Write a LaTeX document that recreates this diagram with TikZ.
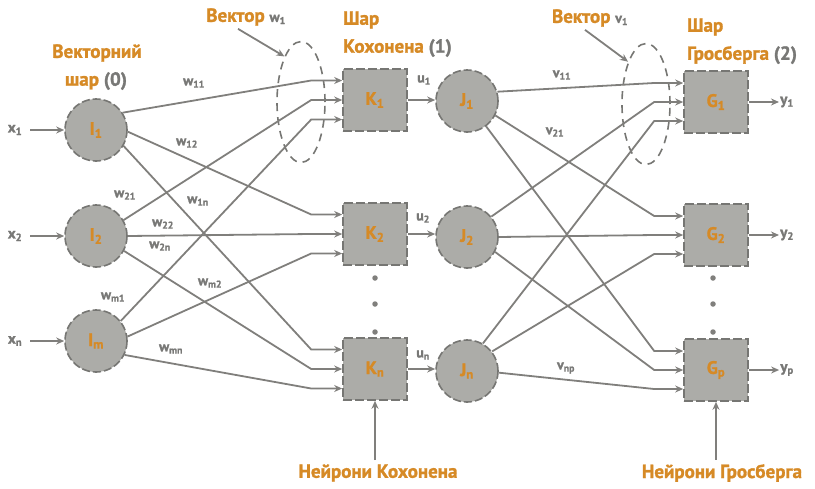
\documentclass[tikz,border=0pt]{standalone}
\usepackage{fontspec}
\setmainfont{PT Sans}[BoldFont={PT Sans Bold},BoldFeatures={FakeBold=1.5}]
\usetikzlibrary{arrows.meta,shapes.geometric}
\definecolor{og}{RGB}{214,138,38}
\definecolor{nodefill}{RGB}{172,172,168}
\definecolor{edgec}{RGB}{128,127,124}
\definecolor{bordc}{RGB}{118,118,115}
\definecolor{txtgray}{RGB}{120,120,118}
\begin{document}
\begin{tikzpicture}[x=1pt,y=-1pt,
  neuron/.style={circle,fill=nodefill,draw=bordc,dash pattern=on 8pt off 3pt,line width=1.6pt,minimum size=62pt,inner sep=0pt,font=\fontsize{18}{18}\selectfont\bfseries,text=og},
  unit/.style={rectangle,fill=nodefill,draw=bordc,dash pattern=on 9pt off 3pt,line width=1.6pt,minimum width=64pt,minimum height=62pt,inner sep=0pt,font=\fontsize{18}{18}\selectfont\bfseries,text=og},
  conn/.style={draw=edgec,line width=1.8pt,-{Stealth[length=8pt,width=7pt]}},
  wl/.style={font=\fontsize{14}{14}\selectfont\bfseries,text=txtgray,inner sep=1pt},
  xl/.style={font=\fontsize{15}{15}\selectfont\bfseries,text=txtgray,inner sep=1pt},
  ttl/.style={font=\fontsize{19}{19}\selectfont\bfseries,text=og,inner sep=0pt},
  vec/.style={ellipse,draw=bordc,dash pattern=on 8pt off 6pt,line width=1.6pt,minimum width=48pt,minimum height=121pt,inner sep=0pt},
  dotc/.style={circle,fill=edgec,inner sep=0pt,minimum size=5.5pt}
]
\useasboundingbox (0,0) rectangle (815,488);

% nodes
\node[neuron] (I1) at (96,130) {I\textsubscript{1}};
\node[neuron] (I2) at (96,236) {I\textsubscript{2}};
\node[neuron] (Im) at (96,341) {I\textsubscript{m}};
\node[unit] (K1) at (375,100) {K\textsubscript{1}};
\node[unit] (K2) at (375,234) {K\textsubscript{2}};
\node[unit] (Kn) at (375,369) {K\textsubscript{n}};
\node[neuron] (J1) at (467,101) {J\textsubscript{1}};
\node[neuron] (J2) at (467,237) {J\textsubscript{2}};
\node[neuron] (Jn) at (467,371) {J\textsubscript{n}};
\node[unit] (G1) at (716,102) {G\textsubscript{1}};
\node[unit] (G2) at (716,235) {G\textsubscript{2}};
\node[unit] (Gp) at (716,370) {G\textsubscript{p}};

% vector ellipses
\node[vec] (E1) at (301,102) {};
\node[vec] (E2) at (646,104) {};

% inputs
\node[xl] (x1) at (15,130) {x\textsubscript{1}};
\node[xl] (x2) at (15,236) {x\textsubscript{2}};
\node[xl] (xn) at (15,341) {x\textsubscript{n}};
\draw[conn,shorten <=7pt] (x1) -- (I1);
\draw[conn,shorten <=7pt] (x2) -- (I2);
\draw[conn,shorten <=7pt] (xn) -- (Im);

% I -> K
\draw[conn] (I1.33) -- ([xshift=-31pt,yshift=19.5pt]K1.west) -- ([yshift=19.5pt]K1.west);
\draw[conn] (I1.-3) -- ([xshift=-31pt,yshift=19.5pt]K2.west) -- ([yshift=19.5pt]K2.west);
\draw[conn] (I1.-30) -- ([xshift=-31pt,yshift=19.5pt]Kn.west) -- ([yshift=19.5pt]Kn.west);
\draw[conn] (I2.30) -- ([xshift=-31pt]K1.west) -- (K1.west);
\draw[conn] (I2.0) -- ([xshift=-31pt]K2.west) -- (K2.west);
\draw[conn] (I2.-28) -- ([xshift=-31pt]Kn.west) -- (Kn.west);
\draw[conn] (Im.39) -- ([xshift=-31pt,yshift=-19.5pt]K1.west) -- ([yshift=-19.5pt]K1.west);
\draw[conn] (Im.8) -- ([xshift=-31pt,yshift=-19.5pt]K2.west) -- ([yshift=-19.5pt]K2.west);
\draw[conn] (Im.-26) -- ([xshift=-31pt,yshift=-19.5pt]Kn.west) -- ([yshift=-19.5pt]Kn.west);

% K -> J
\draw[conn] (K1.east) -- (K1.east -| J1.west);
\draw[conn] (K2.east) -- (K2.east -| J2.west);
\draw[conn] (Kn.east) -- (Kn.east -| Jn.west);

% J -> G
\draw[conn] (J1.17) -- ([xshift=-29pt,yshift=19pt]G1.west) -- ([yshift=19pt]G1.west);
\draw[conn] (J1.-27) -- ([xshift=-29pt,yshift=19pt]G2.west) -- ([yshift=19pt]G2.west);
\draw[conn] (J1.-53) -- ([xshift=-29pt,yshift=19pt]Gp.west) -- ([yshift=19pt]Gp.west);
\draw[conn] (J2.40) -- ([xshift=-29pt]G1.west) -- (G1.west);
\draw[conn] (J2.0) -- ([xshift=-29pt]G2.west) -- (G2.west);
\draw[conn] (J2.-28) -- ([xshift=-29pt]Gp.west) -- (Gp.west);
\draw[conn] (Jn.60) -- ([xshift=-29pt,yshift=-19pt]G1.west) -- ([yshift=-19pt]G1.west);
\draw[conn] (Jn.38) -- ([xshift=-29pt,yshift=-19pt]G2.west) -- ([yshift=-19pt]G2.west);
\draw[conn] (Jn.-3) -- ([xshift=-29pt,yshift=-19pt]Gp.west) -- ([yshift=-19pt]Gp.west);

% outputs
\node[xl] (y1) at (787,102) {y\textsubscript{1}};
\node[xl] (y2) at (787,235) {y\textsubscript{2}};
\node[xl] (yp) at (787,370) {y\textsubscript{p}};
\draw[conn] (G1) -- (y1);
\draw[conn] (G2) -- (y2);
\draw[conn] (Gp) -- (yp);

% dots
\foreach \yy [count=\i] in {278,304,332} {
  \node[dotc] (kd\i) at (375,\yy) {};
  \node[dotc] (gd\i) at (713,\yy) {};
}

% weight labels
\node[wl] (lw11) at (194,83) {w\textsubscript{11}};
\node[wl] (lw12) at (187,143) {w\textsubscript{12}};
\node[wl] (lw1n) at (198,201) {w\textsubscript{1n}};
\node[wl] (lw21) at (125,195) {w\textsubscript{21}};
\node[wl] (lw22) at (163,224) {w\textsubscript{22}};
\node[wl] (lw2n) at (160,246) {w\textsubscript{2n}};
\node[wl] (lwm1) at (113,297) {w\textsubscript{m1}};
\node[wl] (lwm2) at (210,283) {w\textsubscript{m2}};
\node[wl] (lwmn) at (171,349) {w\textsubscript{mn}};
\node[wl] (lv11) at (562,75) {v\textsubscript{11}};
\node[wl] (lv21) at (555,132) {v\textsubscript{21}};
\node[wl] (lvnp) at (566,368) {v\textsubscript{np}};
\node[wl] (lu1) at (424,80) {u\textsubscript{1}};
\node[wl] (lu2) at (423,218) {u\textsubscript{2}};
\node[wl] (lun) at (423,355) {u\textsubscript{n}};

% titles
\node[ttl] (L0a) at (97,53) {Векторний};
\node[ttl] (L0b) at (96,81) {шар \textcolor{txtgray}{(0)}};
\node[ttl,anchor=west] (L1a) at (343,20) {Шар};
\node[ttl,anchor=west] (L1b) at (343,48) {Кохонена \textcolor{txtgray}{(1)}};
\node[ttl,anchor=west] (L2a) at (687,27) {Шар};
\node[ttl,anchor=west] (L2b) at (687,55) {Гросберга \textcolor{txtgray}{(2)}};

\node[ttl] (VW) at (246,17) {Вектор {\fontsize{14}{14}\selectfont\textcolor{txtgray}{w\textsubscript{1}}}};
\node[ttl] (VV) at (590,18) {Вектор {\fontsize{14}{14}\selectfont\textcolor{txtgray}{v\textsubscript{1}}}};
\draw[conn] ([xshift=-8pt,yshift=-3pt]VW.south) -- (E1.110);
\draw[conn] ([xshift=-5pt,yshift=-3pt]VV.south) -- (E2.113);

\node[ttl] (NK) at (378,473) {Нейрони Кохонена};
\node[ttl] (NG) at (722,473) {Нейрони Гросберга};
\draw[conn,shorten <=4pt] (Kn.south |- NK.north) -- (Kn.south);
\draw[conn,shorten <=4pt] (Gp.south |- NG.north) -- (Gp.south);
\end{tikzpicture}
\end{document}
